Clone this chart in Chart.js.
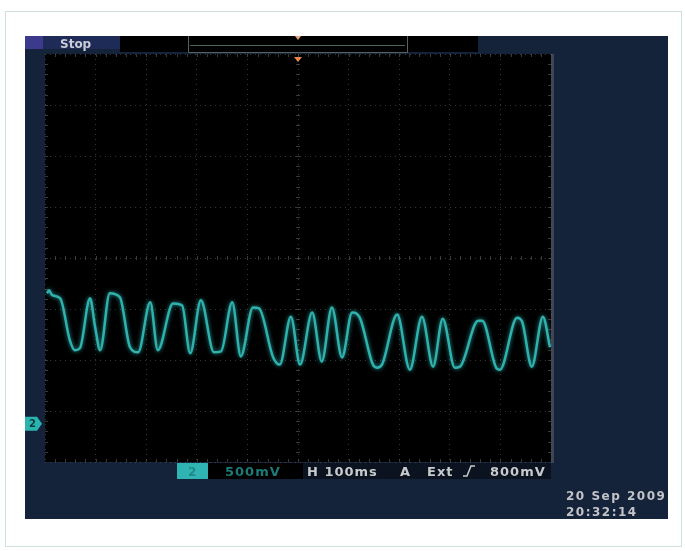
<!DOCTYPE html>
<html>
<head>
<meta charset="utf-8">
<title>CH2 capture</title>
<script src="https://cdn.jsdelivr.net/npm/chart.js@4"></script>
<style>
  html, body { margin: 0; padding: 0; background: #fff; }
  #wrap { width: 685px; height: 551px; }
</style>
</head>
<body>
<div id="wrap"><canvas id="scope" width="685" height="551"></canvas></div>
<script>
// horizontal: 10 div x 100 ms, vertical: 500 mV/div, ground 0.25 div above the bottom line
const timeMs = [4, 8, 14, 30, 49, 59, 69, 89, 99, 109, 128, 148, 168, 184, 208, 223, 253, 271, 287, 308,
  334, 348, 370, 387, 411, 423, 451, 464, 486, 504, 528, 547, 567, 587, 607, 622, 648, 656, 666, 696,
  721, 745, 767, 786, 810, 820, 856, 864, 893, 899, 933, 943, 962, 984, 998];
const voltsCh2 = [1.28, 1.31, 1.26, 1.23, 0.82, 0.72, 0.74, 1.23, 0.95, 0.72, 1.28, 1.24, 0.75, 0.70, 1.19, 0.72, 1.18, 1.16, 0.69, 1.21,
  0.70, 0.71, 1.19, 0.66, 1.14, 1.13, 0.65, 0.58, 1.05, 0.58, 1.09, 0.61, 1.14, 0.65, 1.09, 1.04, 0.58, 0.55, 0.58, 1.07,
  0.53, 1.05, 0.56, 1.03, 0.55, 0.56, 1.01, 1.01, 0.54, 0.53, 1.04, 1.00, 0.56, 1.05, 0.75];

const voltsPerDiv = 0.5;
const bottomVolts = -0.375;
const divsY = 8;

const runState = "Stop";
const chLabel = "2";
const chScale = "500mV";
const timebase = "H 100ms";
const trigLabels = ["A", "Ext"];
const trigLevel = "800mV";
const dateLines = ["20 Sep 2009", "20:32:14"];

const NAVY = "#14223a";
const TRACE = "#2fb2ae";
const GRID = "rgba(95,95,95,0.55)";

const screenPlugin = {
  id: "screen",
  beforeDraw(chart) {
    const ctx = chart.ctx;
    const a = chart.chartArea;
    ctx.save();
    ctx.fillStyle = "#fff";
    ctx.fillRect(0, 0, chart.width, chart.height);
    ctx.strokeStyle = "#cfe1dc";
    ctx.lineWidth = 1;
    ctx.strokeRect(5.5, 11.5, 676, 535);

    // scope screen
    ctx.fillStyle = NAVY;
    ctx.fillRect(25, 36, 643, 483);

    // top bar
    ctx.fillStyle = "#3b3a8c";
    ctx.fillRect(25, 36, 18, 13);
    ctx.fillStyle = "#1f2b57";
    ctx.fillRect(43, 36, 77, 13);
    ctx.fillStyle = "#000";
    ctx.fillRect(120, 36, 68, 16);
    ctx.fillRect(188, 36, 219, 16);
    ctx.fillRect(407, 36, 71, 16);
    ctx.strokeStyle = "#59615e";
    ctx.beginPath();
    ctx.moveTo(188.5, 36); ctx.lineTo(188.5, 52.5); ctx.lineTo(407.5, 52.5); ctx.lineTo(407.5, 36);
    ctx.stroke();
    ctx.strokeStyle = "#46665a";
    ctx.beginPath();
    ctx.moveTo(190, 45.5); ctx.lineTo(405, 45.5);
    ctx.stroke();
    ctx.fillStyle = "#e9a77a";
    ctx.beginPath();
    ctx.moveTo(295, 36); ctx.lineTo(301, 36); ctx.lineTo(298, 40);
    ctx.fill();

    ctx.font = 'bold 12px "DejaVu Sans"';
    ctx.textBaseline = "alphabetic";
    ctx.fillStyle = "#c9cdd6";
    ctx.fillText(runState, 60, 48);

    // graticule background
    ctx.fillStyle = "#000";
    ctx.fillRect(a.left, a.top, a.right - a.left, a.bottom - a.top);
    ctx.fillStyle = "#3e4656";
    ctx.fillRect(a.right, a.top, 3, a.bottom - a.top + 1);
    ctx.restore();
  },
  beforeDatasetsDraw(chart) {
    // minor ticks on the centre lines and the edges
    const ctx = chart.ctx;
    const a = chart.chartArea;
    const cx = (a.left + a.right) / 2;
    const cy = (a.top + a.bottom) / 2;
    const dx = (a.right - a.left) / 50;
    const dy = (a.bottom - a.top) / 40;
    ctx.save();
    ctx.strokeStyle = "rgba(95,95,95,0.6)";
    ctx.lineWidth = 1;
    ctx.beginPath();
    for (let i = 1; i < 50; i++) {
      const x = Math.round(a.left + i * dx) + 0.5;
      ctx.moveTo(x, cy - 2); ctx.lineTo(x, cy + 2);
      ctx.moveTo(x, a.top); ctx.lineTo(x, a.top + 3);
      ctx.moveTo(x, a.bottom - 3); ctx.lineTo(x, a.bottom);
    }
    for (let j = 1; j < 40; j++) {
      const y = Math.round(a.top + j * dy) + 0.5;
      ctx.moveTo(cx - 2, y); ctx.lineTo(cx + 2, y);
      ctx.moveTo(a.left, y); ctx.lineTo(a.left + 3, y);
      ctx.moveTo(a.right - 3, y); ctx.lineTo(a.right, y);
    }
    ctx.stroke();
    ctx.restore();
  },
  beforeDatasetDraw(chart) {
    chart.ctx.save();
    chart.ctx.shadowColor = "rgba(50,190,185,0.8)";
    chart.ctx.shadowBlur = 4;
  },
  afterDatasetDraw(chart) {
    chart.ctx.restore();
  },
  afterDraw(chart) {
    const ctx = chart.ctx;
    const a = chart.chartArea;
    const yScale = chart.scales.y;
    ctx.save();

    // trigger position marker
    ctx.fillStyle = "#e8874a";
    const tx = (a.left + a.right) / 2;
    ctx.beginPath();
    ctx.moveTo(tx - 4, a.top + 3); ctx.lineTo(tx + 4, a.top + 3); ctx.lineTo(tx, a.top + 8);
    ctx.fill();

    // channel 2 ground marker
    const gy = yScale.getPixelForValue(0);
    ctx.fillStyle = "#2bb3b0";
    ctx.beginPath();
    ctx.moveTo(25, gy - 7); ctx.lineTo(37, gy - 7); ctx.lineTo(42, gy); ctx.lineTo(37, gy + 7); ctx.lineTo(25, gy + 7);
    ctx.fill();
    ctx.fillStyle = "#0d3b3c";
    ctx.font = 'bold 10px "DejaVu Sans"';
    ctx.textBaseline = "middle";
    ctx.fillText(chLabel, 29, gy + 1);

    // status line
    const sy = a.bottom + 1;
    ctx.fillStyle = "#2fb3b3";
    ctx.fillRect(177, sy, 31, 16);
    ctx.fillStyle = "#000";
    ctx.fillRect(208, sy, 95, 16);
    ctx.fillStyle = "#0b1220";
    ctx.fillRect(303, sy, a.right - 303, 16);

    ctx.textBaseline = "alphabetic";
    ctx.font = 'bold 12px "DejaVu Sans"';
    ctx.fillStyle = "#1f8a88";
    ctx.fillText(chLabel, 188, sy + 13);

    ctx.font = 'bold 13px "DejaVu Sans"';
    ctx.letterSpacing = "1px";
    ctx.fillStyle = "#1d7a77";
    ctx.fillText(chScale, 225, sy + 13);

    ctx.fillStyle = "#c8cacc";
    ctx.fillText(timebase, 307, sy + 13);
    ctx.fillText(trigLabels[0], 400, sy + 13);
    ctx.fillText(trigLabels[1], 427, sy + 13);
    ctx.fillText(trigLevel, 490, sy + 13);

    // rising edge symbol
    ctx.strokeStyle = "#c8cacc";
    ctx.lineWidth = 1.5;
    ctx.beginPath();
    ctx.moveTo(463, sy + 13); ctx.lineTo(467, sy + 13); ctx.lineTo(471, sy + 3); ctx.lineTo(475, sy + 3);
    ctx.stroke();

    // date and time, clipped by the screen edge
    ctx.beginPath();
    ctx.rect(25, 36, 643, 483);
    ctx.clip();
    ctx.font = 'bold 12px "DejaVu Sans"';
    ctx.letterSpacing = "1.5px";
    ctx.fillStyle = "#c2c4c8";
    ctx.fillText(dateLines[0], 566, 500);
    ctx.fillText(dateLines[1], 566, 516);
    ctx.restore();
  }
};

const traceData = timeMs.map((t, i) => ({ x: t, y: voltsCh2[i] }));

new Chart(document.getElementById("scope"), {
  type: "line",
  data: {
    datasets: [{
      label: "CH2",
      data: traceData,
      borderColor: TRACE,
      borderWidth: 2.5,
      pointRadius: 0,
      cubicInterpolationMode: "monotone",
      fill: false
    }]
  },
  options: {
    responsive: false,
    animation: false,
    events: [],
    layout: { padding: { left: 45, right: 134, top: 54, bottom: 89 } },
    plugins: { legend: { display: false }, tooltip: { enabled: false }, title: { display: false } },
    scales: {
      x: {
        type: "linear",
        min: 0,
        max: 1000,
        ticks: { display: false, stepSize: 100 },
        grid: { color: GRID, drawTicks: false },
        border: { display: false, dash: [1, 4] }
      },
      y: {
        type: "linear",
        min: bottomVolts,
        max: bottomVolts + divsY * voltsPerDiv,
        afterBuildTicks(scale) {
          scale.ticks = [];
          for (let k = 0; k <= divsY; k++) scale.ticks.push({ value: bottomVolts + k * voltsPerDiv });
        },
        ticks: { display: false },
        grid: { color: GRID, drawTicks: false },
        border: { display: false, dash: [1, 4] }
      }
    }
  },
  plugins: [screenPlugin]
});
</script>
</body>
</html>
